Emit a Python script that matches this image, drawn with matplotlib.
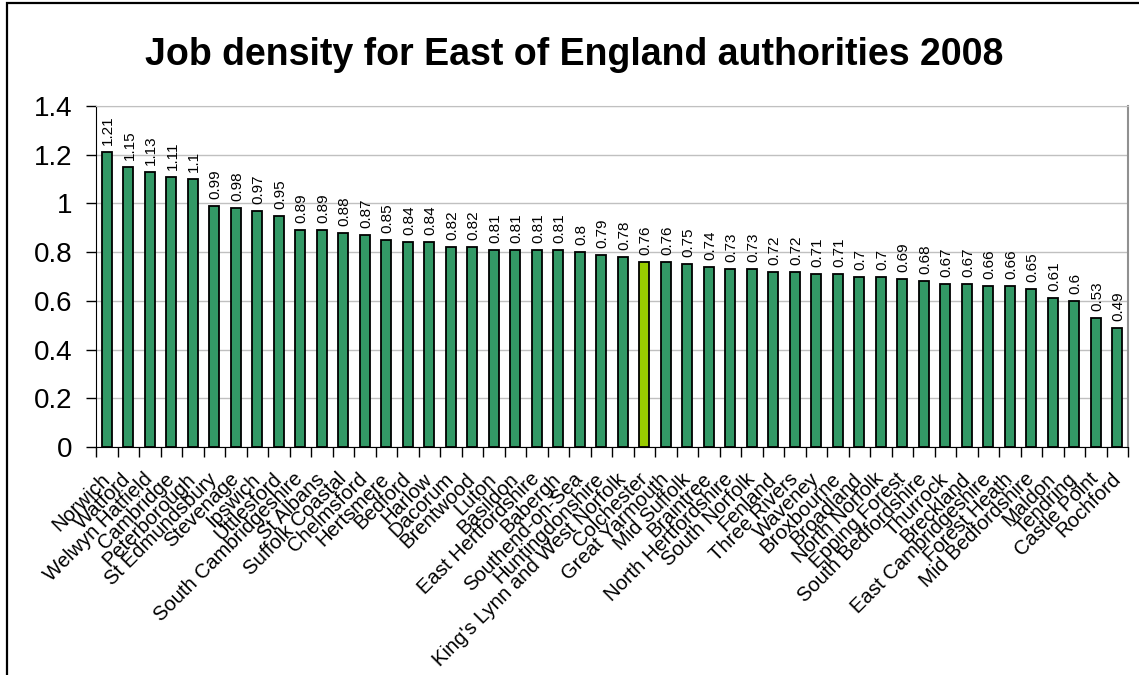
import matplotlib
matplotlib.use('Agg')
import matplotlib.pyplot as plt
import matplotlib.patches as patches
from matplotlib.ticker import FixedLocator, NullFormatter

plt.rcParams['font.family'] = ['Liberation Sans', 'DejaVu Sans']

# job density by local authority, sorted high to low
authorities = [
	'Norwich', 'Watford', 'Welwyn Hatfield', 'Cambridge', 'Peterborough',
	'St Edmundsbury', 'Stevenage', 'Ipswich', 'Uttlesford', 'South Cambridgeshire',
	'St Albans', 'Suffolk Coastal', 'Chelmsford', 'Hertsmere', 'Bedford',
	'Harlow', 'Dacorum', 'Brentwood', 'Luton', 'Basildon',
	'East Hertfordshire', 'Babergh', 'Southend-on-Sea', 'Huntingdonshire',
	"King's Lynn and West Norfolk", 'Colchester', 'Great Yarmouth', 'Mid Suffolk',
	'Braintree', 'North Hertfordshire', 'South Norfolk', 'Fenland', 'Three Rivers',
	'Waveney', 'Broxbourne', 'Broadland', 'North Norfolk', 'Epping Forest',
	'South Bedfordshire', 'Thurrock', 'Breckland', 'East Cambridgeshire',
	'Forest Heath', 'Mid Bedfordshire', 'Maldon', 'Tendring', 'Castle Point',
	'Rochford',
]
density = [
	1.21, 1.15, 1.13, 1.11, 1.1, 0.99, 0.98, 0.97, 0.95, 0.89,
	0.89, 0.88, 0.87, 0.85, 0.84, 0.84, 0.82, 0.82, 0.81, 0.81,
	0.81, 0.81, 0.8, 0.79, 0.78, 0.76, 0.76, 0.75, 0.74, 0.73,
	0.73, 0.72, 0.72, 0.71, 0.71, 0.7, 0.7, 0.69, 0.68, 0.67,
	0.67, 0.66, 0.66, 0.65, 0.61, 0.6, 0.53, 0.49,
]
highlight = 'Colchester'

BAR_GREEN = '#339966'
BAR_HIGHLIGHT = '#99CC00'
GRID_GREY = '#C0C0C0'


def main():
	fig = plt.figure(figsize=(11.39, 6.75), dpi=100)
	ax = fig.add_axes([96 / 1139, 1 - 447 / 675, (1128 - 96) / 1139, (447 - 106) / 675])

	xs = list(range(len(authorities)))
	colors = [BAR_HIGHLIGHT if a == highlight else BAR_GREEN for a in authorities]
	ax.bar(xs, density, width=0.45, color=colors, edgecolor='black', linewidth=1.3, zorder=3)

	for x, v in zip(xs, density):
		ax.annotate(f'{v:g}', (x, v), xytext=(1, 5), textcoords='offset points',
					rotation=90, ha='center', va='bottom', fontsize=11)

	ax.set_xlim(-0.5, len(authorities) - 0.5)
	ax.set_ylim(0, 1.4)
	ax.set_yticks([0, 0.2, 0.4, 0.6, 0.8, 1.0, 1.2, 1.4])
	ax.set_yticklabels(['0', '0.2', '0.4', '0.6', '0.8', '1', '1.2', '1.4'])
	ax.yaxis.grid(True, color=GRID_GREY, linewidth=1, zorder=0)
	ax.tick_params(axis='y', labelsize=20, length=7, width=1, direction='out', pad=10)

	# category labels at bar centres, tick marks between categories
	ax.set_xticks(xs)
	ax.set_xticklabels(authorities, rotation=45, ha='right', rotation_mode='anchor', fontsize=14.6)
	for lab in ax.get_xticklabels():
		lab.set_va('center')
	ax.tick_params(axis='x', which='major', length=0, pad=21)
	ax.xaxis.set_minor_locator(FixedLocator([i - 0.5 for i in range(len(authorities) + 1)]))
	ax.xaxis.set_minor_formatter(NullFormatter())
	ax.tick_params(axis='x', which='minor', length=7, width=1, direction='out')

	ax.spines['left'].set_color('black')
	ax.spines['bottom'].set_color('black')
	ax.spines['top'].set_color(GRID_GREY)
	ax.spines['right'].set_color('#909090')
	ax.spines['right'].set_linewidth(1.5)

	fig.text(574 / 1139, 1 - 55 / 675, 'Job density for East of England authorities 2008',
			 ha='center', va='center', fontsize=27, fontweight='bold')

	# outer chart frame
	frame = patches.Rectangle((7 / 1139, -0.2), 1.2, 1.2 - 3 / 675,
							  transform=fig.transFigure, fill=False,
							  edgecolor='black', linewidth=1.6, clip_on=False)
	fig.patches.append(frame)

	fig.savefig('out.png', dpi=100)


if __name__ == '__main__':
	main()
